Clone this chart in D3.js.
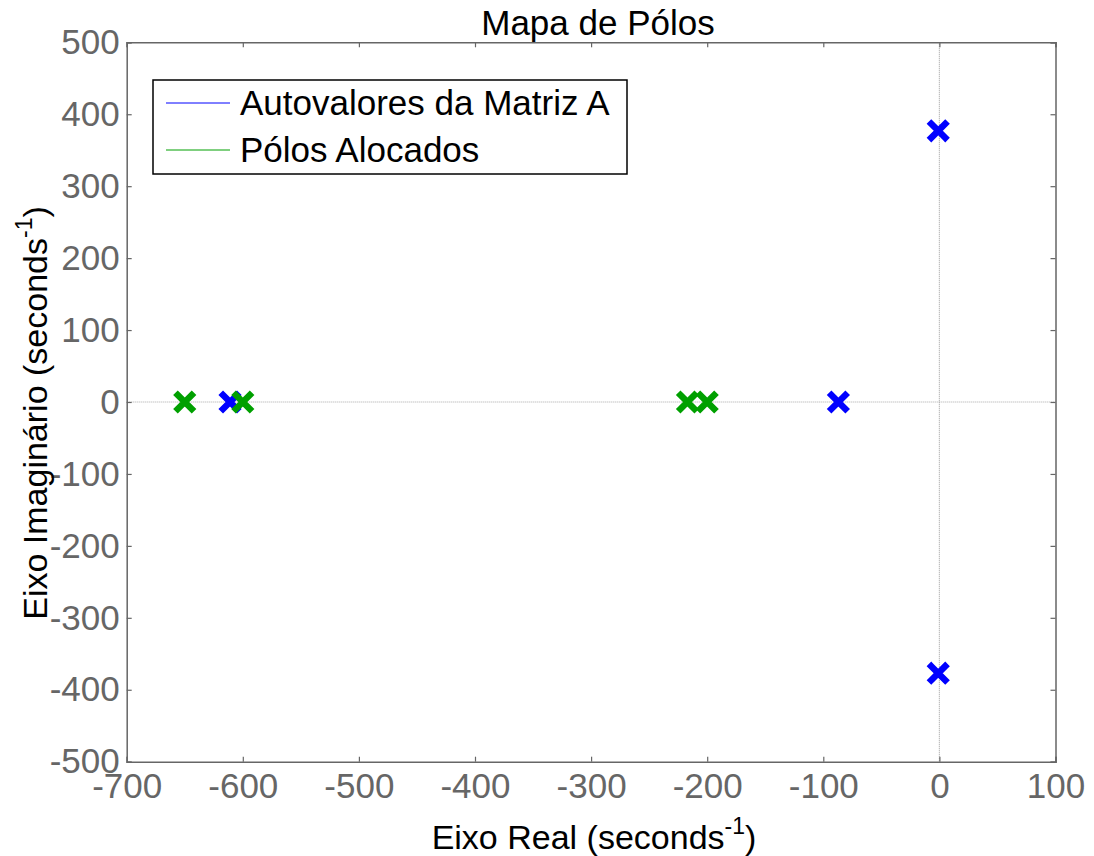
<!DOCTYPE html>
<html>
<head>
<meta charset="utf-8">
<script src="https://cdn.jsdelivr.net/npm/d3@7"></script>
<style>
  body { margin: 0; background: #fff; }
  svg { display: block; font-family: "Liberation Sans", Arial, sans-serif; }
</style>
</head>
<body>
<svg id="chart" width="1094" height="856"></svg>
<script>
// Eigenvalues of matrix A (open loop) and the allocated closed-loop poles
const autovaloresRe = [-611, -87, -1, -1];
const autovaloresIm = [0, 0, 377, -377];
const polosRe = [-650, -600, -217, -200];
const polosIm = [0, 0, 0, 0];

const xTicks = [-700, -600, -500, -400, -300, -200, -100, 0, 100];
const yTicks = [500, 400, 300, 200, 100, 0, -100, -200, -300, -400, -500];

const seriesNames = ["Autovalores da Matriz A", "Pólos Alocados"];
const seriesColors = ["#0000ff", "#00a000"];

const svg = d3.select("#chart");
const plotLeft = 126.7, plotRight = 1055.5, plotTop = 42.3, plotBottom = 761.7;

const x = d3.scaleLinear().domain([-700, 100]).range([plotLeft, plotRight]);
const y = d3.scaleLinear().domain([-500, 500]).range([plotBottom, plotTop]);

const axisColor = "#666666";

// zero lines
svg.append("line")
  .attr("x1", x(0)).attr("x2", x(0)).attr("y1", plotTop).attr("y2", plotBottom)
  .attr("stroke", "#aaaaaa").attr("stroke-width", 1.2).attr("stroke-dasharray", "1,1");
svg.append("line")
  .attr("x1", plotLeft).attr("x2", plotRight).attr("y1", y(0)).attr("y2", y(0))
  .attr("stroke", "#aaaaaa").attr("stroke-width", 1.2).attr("stroke-dasharray", "1,1");

// axes (ticks inward on all four sides)
const tickLen = 5;
const fmt = d => String(d);
const gx = svg.append("g").attr("transform", `translate(0,${plotBottom})`)
  .call(d3.axisBottom(x).tickValues(xTicks).tickSize(-tickLen).tickPadding(11).tickFormat(fmt));
const gxTop = svg.append("g").attr("transform", `translate(0,${plotTop})`)
  .call(d3.axisTop(x).tickValues(xTicks).tickSize(-tickLen).tickFormat(""));
const gy = svg.append("g").attr("transform", `translate(${plotLeft},0)`)
  .call(d3.axisLeft(y).tickValues(yTicks).tickSize(-tickLen).tickPadding(7).tickFormat(fmt));
const gyRight = svg.append("g").attr("transform", `translate(${plotRight},0)`)
  .call(d3.axisRight(y).tickValues(yTicks).tickSize(-tickLen).tickFormat(""));

[gx, gxTop, gy, gyRight].forEach(g => {
  g.select(".domain").attr("stroke", axisColor).attr("stroke-width", 1.5);
  g.selectAll(".tick line").attr("stroke", axisColor).attr("stroke-width", 1.2);
  g.selectAll(".tick text").attr("fill", axisColor)
    .style("font-size", "35px").style("font-family", "'Liberation Sans', Arial, sans-serif");
});
gx.selectAll(".tick text").attr("dy", "0.71em");

// markers: thick "x"
function drawX(sel, cx, cy, color) {
  const s = 7;
  sel.append("path")
    .attr("d", `M${cx - s},${cy - s}L${cx + s},${cy + s}M${cx - s},${cy + s}L${cx + s},${cy - s}`)
    .attr("stroke", color).attr("stroke-width", 6.5).attr("stroke-linecap", "square").attr("fill", "none");
}
const marks = svg.append("g");
autovaloresRe.forEach((re, i) => drawX(marks, x(re), y(autovaloresIm[i]), seriesColors[0]));
polosRe.forEach((re, i) => drawX(marks, x(re), y(polosIm[i]), seriesColors[1]));

// title
svg.append("text").attr("x", 598).attr("y", 35).attr("text-anchor", "middle")
  .style("font-size", "35px").attr("fill", "#000").text("Mapa de Pólos");

// axis labels
const xl = svg.append("text").attr("x", 594).attr("y", 849).attr("text-anchor", "middle")
  .style("font-size", "34px").attr("fill", "#000");
xl.append("tspan").text("Eixo Real (seconds");
xl.append("tspan").attr("dy", -15).style("font-size", "23px").text("-1");
xl.append("tspan").attr("dy", 15).text(")");

const yl = svg.append("text").attr("transform", `translate(47,413) rotate(-90)`).attr("text-anchor", "middle")
  .style("font-size", "34px").attr("fill", "#000");
yl.append("tspan").text("Eixo Imaginário (seconds");
yl.append("tspan").attr("dy", -15).style("font-size", "23px").text("-1");
yl.append("tspan").attr("dy", 15).text(")");

// legend
const lg = svg.append("g");
lg.append("rect").attr("x", 153).attr("y", 80).attr("width", 474).attr("height", 94)
  .attr("fill", "#fff").attr("stroke", "#000").attr("stroke-width", 1.5);
seriesNames.forEach((name, i) => {
  const cy = 103 + i * 47;
  lg.append("line").attr("x1", 166).attr("x2", 230).attr("y1", cy).attr("y2", cy)
    .attr("stroke", seriesColors[i]).attr("stroke-width", 1);
  lg.append("text").attr("x", 240).attr("y", cy + 12)
    .style("font-size", "35px").attr("fill", "#000").text(name);
});
</script>
</body>
</html>
